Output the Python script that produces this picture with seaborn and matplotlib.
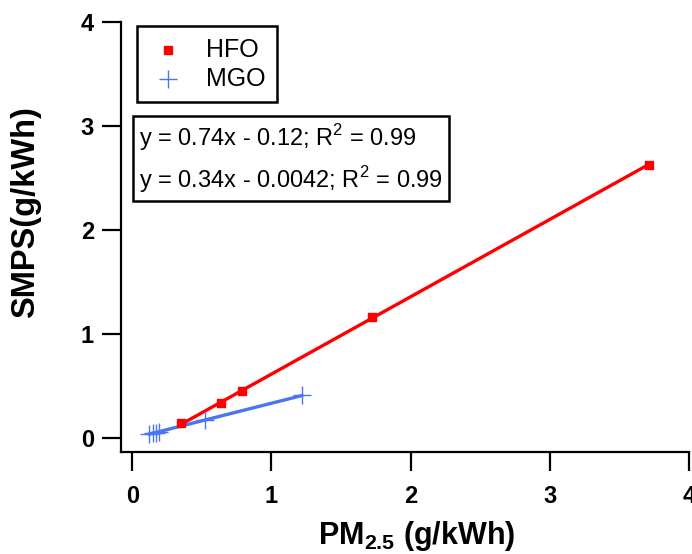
import numpy as np
import pandas as pd
import matplotlib
matplotlib.use("Agg")
import matplotlib.pyplot as plt
import seaborn as sns

# values
hfo_x = [0.35, 0.64, 0.79, 1.72, 3.71]
hfo_y = [0.14, 0.34, 0.45, 1.16, 2.63]
mgo_x = [0.12, 0.15, 0.17, 0.19, 0.52, 1.22]
mgo_y = [0.04, 0.05, 0.05, 0.06, 0.17, 0.41]
fit_labels = ["y = 0.74x - 0.12; R$^2$ = 0.99",
              "y = 0.34x - 0.0042; R$^2$ = 0.99"]
ticks = [0, 1, 2, 3, 4]

red = "#ff0000"
blue = "#4a74f0"

sns.set_style("ticks", {"text.color": "black", "axes.labelcolor": "black",
                        "xtick.color": "black", "ytick.color": "black",
                        "axes.edgecolor": "black"})
plt.rcParams["font.family"] = ["Liberation Sans", "DejaVu Sans"]
plt.rcParams["mathtext.fontset"] = "custom"
plt.rcParams["mathtext.rm"] = "Liberation Sans"
plt.rcParams["mathtext.bf"] = "Liberation Sans:bold"

hfo = pd.DataFrame({"x": hfo_x, "y": hfo_y})
mgo = pd.DataFrame({"x": mgo_x, "y": mgo_y})

fig = plt.figure(figsize=(6.92, 5.54), dpi=100)
ax = fig.add_axes([0.175, 0.184, 0.821, 0.776])

# regression lines
sns.regplot(data=hfo, x="x", y="y", ax=ax, ci=None, scatter=False,
            color=red, line_kws={"linewidth": 2.4})
sns.regplot(data=mgo, x="x", y="y", ax=ax, ci=None, scatter=False,
            color=blue, line_kws={"linewidth": 2.4})

# points
ax.scatter(hfo["x"], hfo["y"], marker="s", s=40, color=red, label="HFO", zorder=3)
ax.scatter(mgo["x"], mgo["y"], marker="+", s=180, color=blue, linewidths=1.0,
           label="MGO", zorder=3)

ax.set_xlim(-0.08, 4.0)
ax.set_ylim(-0.135, 4.0)
ax.set_xticks(ticks)
ax.set_yticks(ticks)
ax.tick_params(direction="out", length=13.5, width=1.6, labelsize=17)
ax.tick_params(axis="x", pad=10)
ax.tick_params(axis="y", pad=6)
for lab in ax.get_xticklabels() + ax.get_yticklabels():
    lab.set_fontweight("bold")
sns.despine(ax=ax)
for side in ["left", "bottom"]:
    ax.spines[side].set_linewidth(1.6)

ax.set_xlabel(r"$\mathbf{PM_{2.5}}$ (g/kWh)", fontsize=22, fontweight="bold")
ax.set_ylabel("SMPS(g/kWh)", fontsize=23.5, fontweight="bold")
ax.xaxis.set_label_coords(0.52, -0.155)
ax.yaxis.set_label_coords(-0.141, 0.558)

leg = ax.legend(loc="upper left", bbox_to_anchor=(0.028, 0.99), fontsize=18,
                frameon=True, fancybox=False, edgecolor="black", framealpha=1,
                handletextpad=0.7, borderpad=0.45, labelspacing=0.2,
                handlelength=1.6, scatterpoints=1, borderaxespad=0)
leg.get_frame().set_linewidth(1.8)
leg.legend_handles[0].set_sizes([36])
leg.legend_handles[1].set_sizes([180])

ax.text(0.032, 0.767, "\n".join(fit_labels), transform=ax.transAxes,
        fontsize=17, va="top", ha="left", linespacing=1.45,
        bbox=dict(boxstyle="square,pad=0.25", facecolor="white",
                  edgecolor="black", linewidth=1.8))

fig.savefig("out.png", dpi=100)
